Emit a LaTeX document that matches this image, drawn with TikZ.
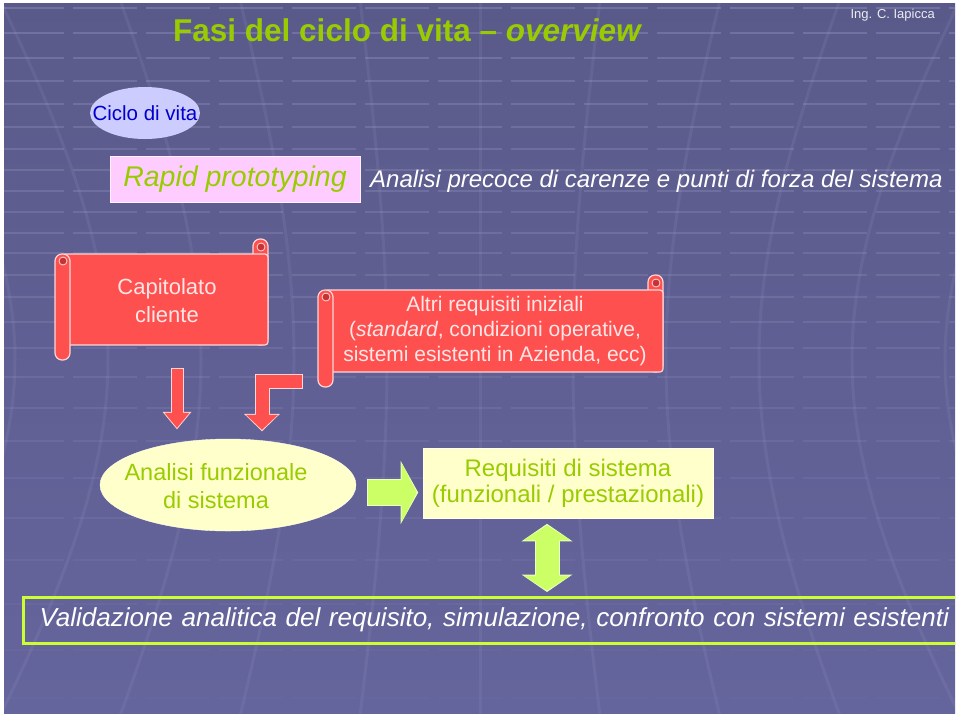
\documentclass[tikz,border=0pt]{standalone}
\usepackage{fontspec}
\setmainfont{Liberation Sans}
\usetikzlibrary{arrows.meta, positioning, shapes.geometric}

\definecolor{slidetop}{HTML}{5A5A8A}
\definecolor{slidebottom}{HTML}{65659D}
\definecolor{gridline}{HTML}{9A9AC8}
\definecolor{titlegreen}{HTML}{99CC00}
\definecolor{scrollred}{HTML}{FF5050}
\definecolor{scrolledge}{HTML}{FFD6D6}
\definecolor{curlred}{HTML}{C43434}
\definecolor{scrolltext}{HTML}{FFE6E6}
\definecolor{paleyellow}{HTML}{FFFFCC}
\definecolor{arrowgreen}{HTML}{CCFF66}
\definecolor{framegreen}{HTML}{CCFF33}
\definecolor{lavender}{HTML}{CCCCFF}
\definecolor{pinkbox}{HTML}{FFCCFF}
\definecolor{cicloblue}{HTML}{0000CC}

\begin{document}
\begin{tikzpicture}[x=1pt, y=-1pt, % 1 unit = 1 pixel, y going down
    scrollpaper/.style={fill=scrollred, draw=scrolledge, line width=1.2pt},
    scrolllabel/.style={text=scrolltext, align=center, inner sep=0pt},
    yellowbox/.style={fill=paleyellow, draw=white!60!paleyellow, line width=0.6pt, text=titlegreen, align=center},
    redshaft/.style 2 args={draw=scrollred, line width=#1, line join=miter, -{Triangle[length=15pt, width=#2, line width=0pt]}},
    redrim/.style 2 args={draw=scrolledge, line width=#1, line join=miter, -{Triangle[length=17.5pt, width=#2, line width=0pt]}},
    greenshaft/.style 2 args={draw=arrowgreen, line width=#1, -{Triangle[length=15pt, width=#2, line width=0pt]}},
    greenrim/.style 2 args={draw=white!60!arrowgreen, line width=#1, -{Triangle[length=17.5pt, width=#2, line width=0pt]}}
]

    % Slide background
    \fill[white] (0,0) rectangle (960,716);
    \useasboundingbox (0,0) rectangle (960,716);
    \shade[top color=slidetop, bottom color=slidebottom] (4,3) rectangle (955,713);

    \begin{scope}
        \clip (4,3) rectangle (955,713);

        % Curved grid of the template
        \foreach \x in {-120,0,120,240,360,480,600,720,840,960,1080} {
            \draw[gridline, line width=3pt, opacity=0.15] (\x,0) .. controls ({\x+0.3*(480-\x)},300) and ({\x+0.3*(480-\x)},420) .. (\x,716);
        }
        \foreach \y in {8,33,58,81,104,127,149,170,191,212,233,253,275,297,322,348,377,408,441,478,518,560,604,650,698} {
            \pgfmathsetmacro\op{0.38-0.34*\y/716}
            \draw[gridline, line width=2pt, opacity=\op, dash pattern=on 64pt off 9pt] (0,\y) -- (960,\y);
        }

        % Validation bar (runs off the right edge)
        \node[anchor=west, draw=framegreen, line width=3pt, text width=921pt, align=left, inner xsep=16pt, minimum height=46pt,
              text=white, font=\fontsize{26}{30}\selectfont\itshape] (valid) at (22,620)
              {Validazione analitica del requisito, simulazione, confronto con sistemi esistenti};
    \end{scope}

    % Header
    \node[anchor=west, inner sep=0pt, text=titlegreen, font=\fontsize{31.5}{36}\selectfont\bfseries] (title) at (173,30) {Fasi del ciclo di vita – \textit{overview}};
    \node[anchor=east, inner sep=0pt, text=white!88!slidetop, font=\fontsize{13}{15}\selectfont] (author) at (935,15) {Ing. C. Iapicca};

    \node[ellipse, fill=lavender, minimum width=110pt, minimum height=52pt, inner sep=0pt] (ciclo) at (145,113) {};
    \node[inner sep=0pt, text=cicloblue, font=\fontsize{20.5}{24}\selectfont] (ciclotext) at (ciclo) {Ciclo di vita};

    \node[fill=pinkbox, draw=white!70!pinkbox, minimum width=250pt, minimum height=46pt, inner sep=0pt,
          text=titlegreen, font=\fontsize{28.5}{32}\selectfont\itshape] (rapid) at (235,179) {Rapid prototyping};
    \node[anchor=west, inner sep=0pt, text=white, font=\fontsize{24}{28}\selectfont\itshape] (precoce) at (370,181)
          {Analisi precoce di carenze e punti di forza del sistema};

    % Scrolls
    \foreach \l/\t/\r/\b in {55/239/268/360, 318/275/663/387} {
        \draw[scrollpaper, rounded corners=7pt] (\r-15,\t) rectangle (\r,\b-15); % right roll
        \draw[scrollpaper, rounded corners=3pt] (\l+7,\t+15) rectangle (\r,\b-15); % sheet
        \draw[scrollpaper, rounded corners=7pt] (\l,\t+15) rectangle (\l+15,\b); % left roll
        \filldraw[fill=curlred, draw=scrolledge, line width=0.8pt] (\r-7,\t+8) circle (4pt);
        \filldraw[fill=curlred, draw=scrolledge, line width=0.8pt] (\l+8,\t+22) circle (4pt);
    }
    \node[scrolllabel, font=\fontsize{22}{28}\selectfont] (capitolato) at (167,301) {Capitolato\\cliente};
    \node[scrolllabel, font=\fontsize{21}{25}\selectfont] (altri) at (495,331)
          {Altri requisiti iniziali\\(\textit{standard}, condizioni operative,\\sistemi esistenti in Azienda, ecc)};

    % Analysis and requirements
    \node[ellipse, fill=paleyellow, draw=white!60!paleyellow, minimum width=256pt, minimum height=92pt, inner sep=0pt] (analisi) at (228,485) {};
    \node[inner sep=0pt, text=titlegreen, align=center, font=\fontsize{23.5}{28}\selectfont] (analisitext) at (216,486) {Analisi funzionale\\di sistema};
    \node[yellowbox, minimum width=290pt, minimum height=70pt, inner sep=0pt, font=\fontsize{24}{26}\selectfont] (requisiti) at (568,483)
          {Requisiti di sistema\\(funzionali / prestazionali)};

    % Block arrows
    \coordinate (capfoot) at (177,369);
    \coordinate (altrifoot) at (302,381);
    \coordinate (altribend) at (262,381);
    \coordinate (anaout) at (368,492.5);
    \coordinate (reqfoot) at ([xshift=-21pt]requisiti.south);

    \draw[redrim={13pt}{29pt}, shorten >=9.5pt, shorten <=-1pt] (capfoot) -- (capfoot |- analisi.north);
    \draw[redshaft={11pt}{25pt}, shorten >=11pt] (capfoot) -- (capfoot |- analisi.north);

    \draw[redrim={15pt}{36pt}, shorten >=7.5pt, shorten <=-1pt] (altrifoot) -- (altribend) -- (altribend |- analisi.north);
    \draw[redshaft={13pt}{32pt}, shorten >=9pt] (altrifoot) -- (altribend) -- (altribend |- analisi.north);

    \draw[greenrim={27pt}{63pt}, shorten >=4.5pt, shorten <=-1pt] (anaout) -- (anaout -| requisiti.west);
    \draw[greenshaft={25pt}{59pt}, shorten >=6pt] (anaout) -- (anaout -| requisiti.west);

    \draw[draw=white!60!arrowgreen, line width=25pt, {Triangle[length=17.5pt, width=51pt, line width=0pt]}-{Triangle[length=17.5pt, width=51pt, line width=0pt]},
          shorten <=5.5pt, shorten >=3.5pt] (reqfoot) -- (reqfoot |- valid.north);
    \draw[draw=arrowgreen, line width=23pt, {Triangle[length=15pt, width=47pt, line width=0pt]}-{Triangle[length=15pt, width=47pt, line width=0pt]},
          shorten <=7pt, shorten >=5pt] (reqfoot) -- (reqfoot |- valid.north);

\end{tikzpicture}
\end{document}
